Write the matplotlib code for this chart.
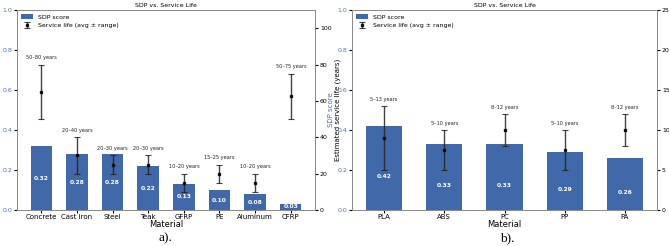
import matplotlib
matplotlib.use("Agg")
import matplotlib.pyplot as plt
import numpy as np

# Panel a data
mat_a = ["Concrete", "Cast Iron", "Steel", "Teak", "GFRP", "PE", "Aluminum", "CFRP"]
sdp_a = [0.32, 0.28, 0.28, 0.22, 0.13, 0.10, 0.08, 0.03]
life_lo_a = [50, 20, 20, 20, 10, 15, 10, 50]
life_hi_a = [80, 40, 30, 30, 20, 25, 20, 75]

# Panel b data
mat_b = ["PLA", "ABS", "PC", "PP", "PA"]
sdp_b = [0.42, 0.33, 0.33, 0.29, 0.26]
life_lo_b = [5, 5, 8, 5, 8]
life_hi_b = [13, 10, 12, 10, 12]

BAR = "#4169A9"
TICKBLUE = "#4C72B0"

W, H = 669, 246
fig = plt.figure(figsize=(W / 100, H / 100), dpi=100)


def panel(rect, mats, sdp, lo, hi, ymax2, ticks2, label_off, caption, cap_x):
    ax = fig.add_axes(rect)
    x = np.arange(len(mats))
    ax.bar(x, sdp, width=0.6, color=BAR, label="SDP score", zorder=2)
    ax.set_ylim(0, 1.0)
    ax.set_yticks(np.arange(0, 1.01, 0.2))
    ax.set_xticks(x)
    ax.set_xticklabels(mats, fontsize=5)
    ax.tick_params(axis="y", labelsize=4.5, labelcolor=TICKBLUE, length=2, pad=1.5)
    ax.tick_params(axis="x", length=2, pad=1.2)
    ax.set_xlabel("Material", fontsize=6, labelpad=0)
    ax.set_ylabel("SDP score", fontsize=5, color=TICKBLUE, labelpad=2)
    ax.set_title("SDP vs. Service Life", fontsize=4.5, pad=2)
    for xi, v in zip(x, sdp):
        ax.annotate(f"{v:.2f}", (xi, v / 2), xytext=(0, label_off), textcoords="offset points",
                    ha="center", va="center", color="white", fontsize=4.3, fontweight="bold", zorder=3)
    ax2 = ax.twinx()
    avg = [(a + b) / 2 for a, b in zip(lo, hi)]
    err = [[m - a for m, a in zip(avg, lo)], [b - m for m, b in zip(avg, hi)]]
    ax2.errorbar(x, avg, yerr=err, fmt="s", color="black", markersize=2, ecolor="#222222",
                 elinewidth=1.0, capsize=2.2, capthick=0.8, alpha=0.85,
                 label="Service life (avg ± range)")
    for xi, a, b in zip(x, lo, hi):
        ax2.annotate(f"{a}–{b} years", (xi, b), xytext=(0, 3), textcoords="offset points",
                     ha="center", va="bottom", fontsize=3.6, color="#222222")
    ax2.set_ylim(0, ymax2)
    ax2.set_yticks(ticks2)
    ax2.tick_params(axis="y", labelsize=4.5, length=2, pad=1.5)
    ax2.set_ylabel("Estimated service life (years)", fontsize=5, labelpad=2)
    for a_ in (ax, ax2):
        for s in a_.spines.values():
            s.set_color("#888888")
            s.set_linewidth(0.6)
    h1, l1 = ax.get_legend_handles_labels()
    h2, l2 = ax2.get_legend_handles_labels()
    ax.legend(h1 + h2, l1 + l2, loc="upper left", fontsize=4.5, frameon=False,
              handlelength=1.8, borderaxespad=0.3, labelspacing=0.5)
    fig.text(cap_x, 1 - 238 / H, caption, fontsize=9.5, family="Liberation Serif",
             ha="center", va="center")
    return ax


def r(x0, x1, ytop, ybot):
    return [x0 / W, 1 - ybot / H, (x1 - x0) / W, (ybot - ytop) / H]


panel(r(17, 315, 10, 210), mat_a, sdp_a, life_lo_a, life_hi_a, 110, range(0, 101, 20), 0,
      "a).", 165 / W)
panel(r(352, 657, 10, 210), mat_b, sdp_b, life_lo_b, life_hi_b, 25, range(0, 26, 5), -6,
      "b).", 507 / W)

fig.savefig("out.png", dpi=100)
